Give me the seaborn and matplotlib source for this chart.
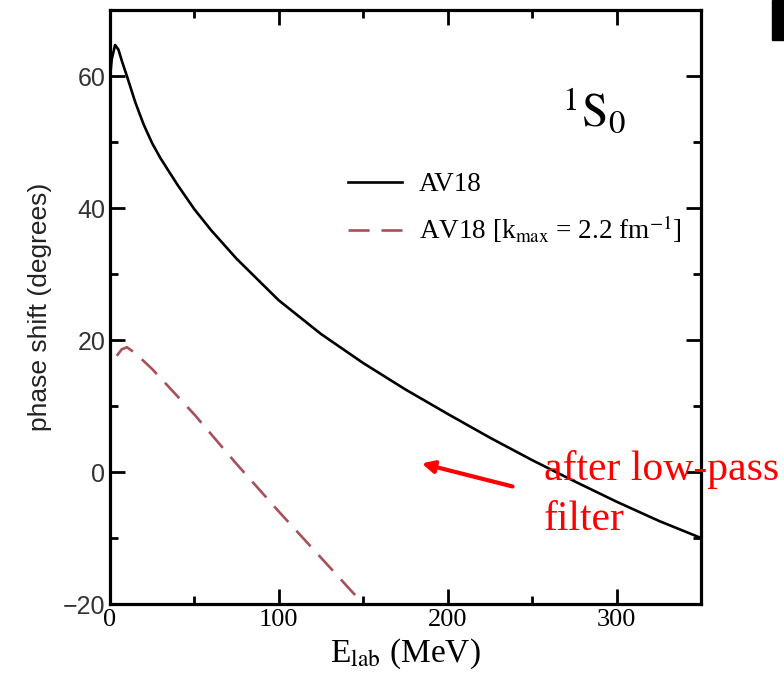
import numpy as np
import pandas as pd
import matplotlib
matplotlib.use('Agg')
import matplotlib.pyplot as plt
import seaborn as sns
from matplotlib.ticker import MultipleLocator
from matplotlib.patches import Rectangle

# AV18 1S0 phase shift (degrees) vs lab energy (MeV)
e_full = [0.3, 1, 3, 5, 7, 10, 15, 20, 25, 30, 40, 50, 60, 75, 100, 125, 150,
          175, 200, 225, 250, 275, 300, 325, 350]
d_full = [60.5, 62.5, 64.7, 64.0, 62.3, 60.0, 56.0, 52.6, 49.8, 47.5, 43.5, 39.8,
          36.6, 32.3, 26.0, 20.9, 16.5, 12.5, 8.8, 5.2, 1.8, -1.4, -4.5, -7.4, -10.0]

# AV18 after low-pass filter (k_max = 2.2 fm^-1)
e_filt = [4, 7, 10, 15, 25, 50, 75, 100, 125, 150]
d_filt = [17.6, 18.6, 18.9, 18.0, 15.6, 8.7, 1.2, -6.0, -13.0, -20.0]

labels = ['AV18', r'AV18 [k$_{\rm max}$ = 2.2 fm$^{-1}$]']

plt.rcParams['mathtext.fontset'] = 'stix'
fig = plt.figure(figsize=(7.84, 6.79), dpi=100)
ax = fig.add_axes([110 / 784, 75 / 679, 591 / 784, 594 / 679])

df_full = pd.DataFrame({'E': e_full, 'delta': d_full})
df_filt = pd.DataFrame({'E': e_filt, 'delta': d_filt})
sns.lineplot(data=df_full, x='E', y='delta', ax=ax, color='black', lw=1.9, label=labels[0])
sns.lineplot(data=df_filt, x='E', y='delta', ax=ax, color='#a8505a', lw=1.9,
             dashes=False, label=labels[1])
ax.lines[1].set_dashes([8, 4.5])

ax.set_xlim(0, 350)
ax.set_ylim(-20, 70)
ax.xaxis.set_major_locator(MultipleLocator(100))
ax.xaxis.set_minor_locator(MultipleLocator(50))
ax.yaxis.set_major_locator(MultipleLocator(20))
ax.yaxis.set_minor_locator(MultipleLocator(10))
ax.tick_params(which='both', direction='in', top=True, right=True, width=2)
ax.tick_params(which='major', length=11)
ax.tick_params(which='minor', length=6)
for s in ax.spines.values():
    s.set_linewidth(2.3)

for t in ax.get_xticklabels():
    t.set_family('Liberation Serif')
    t.set_fontsize(19)
ax.set_yticks([-20, 0, 20, 40, 60])
ax.set_yticklabels(['\u221220', '0', '20', '40', '60'], family='Liberation Sans',
                   fontsize=18, color='#333333')

ax.set_xlabel(r'E$_{\rm lab}$ (MeV)', family='Liberation Serif', fontsize=24, labelpad=4)
ax.set_ylabel('phase shift (degrees)', family='Liberation Sans', fontsize=19, color='#222222', labelpad=8)

leg = ax.legend(loc='upper left', bbox_to_anchor=(0.403, 0.727), frameon=False,
                prop={'family': 'Liberation Serif', 'size': 19.5}, handlelength=2.0,
                handletextpad=0.6, labelspacing=0.6, borderpad=0, borderaxespad=0)

ax.text(267.5, 52.3, r'$^{1}\mathrm{S}_{0}$', fontsize=34, va='baseline')

# annotation outside the axes
fig.text(544 / 784, 1 - 480 / 679, 'after low-pass', color='red',
         family='Liberation Serif', fontsize=30, va='baseline', ha='left')
fig.text(544 / 784, 1 - 530 / 679, 'filter', color='red',
         family='Liberation Serif', fontsize=30, va='baseline', ha='left')
ax.annotate('', xy=(183, 1.4), xytext=(240, -2.3),
            arrowprops=dict(arrowstyle='-|>', color='red', lw=3, mutation_scale=18),
            annotation_clip=False)

fig.patches.append(Rectangle((772 / 784, 1 - 40 / 679), 12 / 784, 40 / 679,
                             transform=fig.transFigure, color='black'))

fig.savefig('out.png', dpi=100)
